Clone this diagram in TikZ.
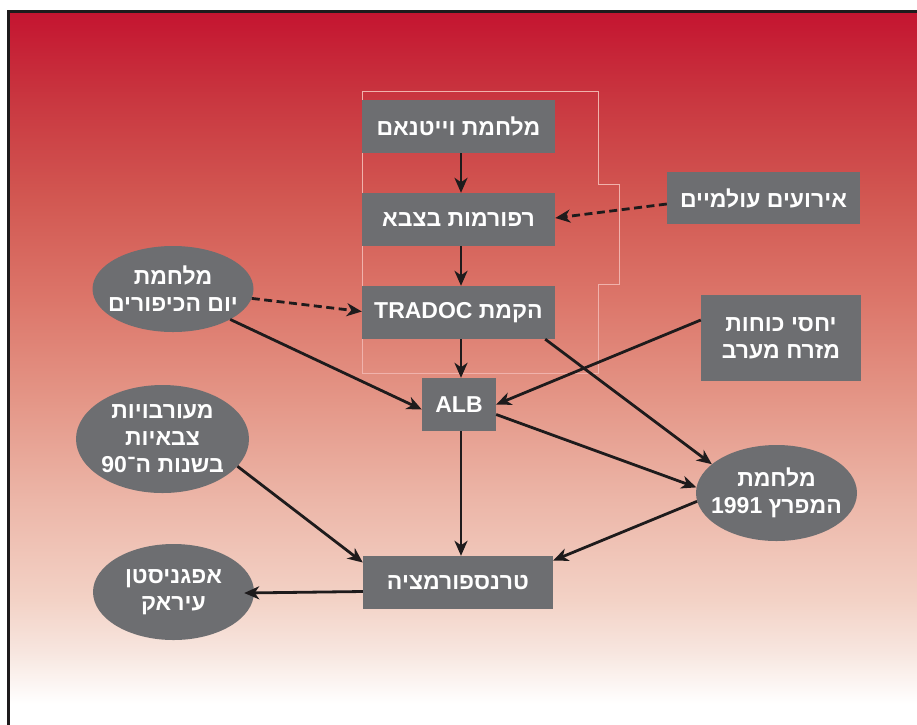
\documentclass[tikz,border=0pt]{standalone}
\usepackage{fontspec}
\setmainfont{Liberation Sans}
\newfontfamily\hebfont[Script=Hebrew]{Liberation Sans}
\TeXXeTstate=1
\usetikzlibrary{arrows.meta,shapes.geometric}
\definecolor{boxgray}{RGB}{109,110,113}
\definecolor{inkc}{RGB}{30,27,28}
\definecolor{outl}{RGB}{240,178,172}
\definecolor{sA}{RGB}{255,255,255}
\definecolor{sB}{RGB}{247,229,222}
\definecolor{sC}{RGB}{243,210,198}
\definecolor{sD}{RGB}{236,182,168}
\definecolor{sE}{RGB}{228,150,135}
\definecolor{sF}{RGB}{220,118,106}
\definecolor{sG}{RGB}{210,88,82}
\definecolor{sH}{RGB}{201,55,64}
\definecolor{sI}{RGB}{196,20,48}
\pgfdeclareverticalshading{bgshade}{912pt}{color(0pt)=(sA); color(20pt)=(sA); color(74pt)=(sB); color(124pt)=(sC); color(224pt)=(sD); color(324pt)=(sE); color(424pt)=(sF); color(524pt)=(sG); color(624pt)=(sH); color(713pt)=(sI)}
\newcommand\heb[1]{\beginR#1\endR}
\tikzset{
  txtfont/.style={font=\hebfont\bfseries\fontsize{23}{27}\selectfont},
  boxn/.style={rectangle, fill=boxgray, text=white, txtfont, inner sep=0pt, align=center},
  elln/.style={ellipse, fill=boxgray, text=white, txtfont, inner sep=-40pt, align=center},
  conn/.style={draw=inkc, line width=2.8pt, -{Stealth[length=15pt,width=13pt,inset=4.5pt]}},
  dconn/.style={conn, dash pattern=on 8pt off 4.5pt},
  outline/.style={draw=outl, line width=0.8pt}
}
\begin{document}
\begin{tikzpicture}[x=1pt,y=-1pt]
\useasboundingbox (0,0) rectangle (917,724);
\clip (0,0) rectangle (917,724);
\fill[white] (0,0) rectangle (917,724);
\node[inner sep=0pt, outer sep=0pt, anchor=south west] (bg) at (8,724) {\pgfuseshading{bgshade}};
\draw[inkc, line width=2.8pt] (8.7,11.2) rectangle (930,740);
% thin outline
\draw[outline] (362,91) -- (598,91) -- (598,184) -- (619,184) -- (619,284) -- (598,284) -- (598,373) -- (362,373) -- cycle;
% boxes
\node[boxn, minimum width=193pt, minimum height=53pt] (viet) at (458.5,126.5) {\heb{מלחמת וייטנאם}};
\node[boxn, minimum width=193pt, minimum height=53pt] (reform) at (458.5,219.5) {\heb{רפורמות בצבא}};
\node[boxn, minimum width=193pt, minimum height=53pt] (tradoc) at (458.5,312.5) {\heb{הקמת \beginL TRADOC\endL}};
\node[boxn, minimum width=74pt, minimum height=53pt] (alb) at (459,404.5) {ALB};
\node[boxn, minimum width=190pt, minimum height=53pt] (trans) at (458,582.5) {\heb{טרנספורמציה}};
\node[boxn, minimum width=193pt, minimum height=52pt] (world) at (763.5,198) {\heb{אירועים עולמיים}};
\node[boxn, minimum width=160pt, minimum height=86pt] (eastwest) at (781,338) {\heb{יחסי כוחות}\\\heb{מזרח מערב}};
% ellipses
\node[elln, minimum width=161pt, minimum height=86pt] (yom) at (173,289) {\heb{מלחמת}\\\heb{יום הכיפורים}};
\node[elln, minimum width=173pt, minimum height=108pt] (mil) at (162.5,439) {\heb{מעורבויות}\\\heb{צבאיות}\\\heb{בשנות ה־\beginL 90\endL}};
\node[elln, minimum width=161pt, minimum height=96pt] (gulf) at (776.5,493) {\heb{מלחמת}\\\heb{המפרץ \beginL 1991\endL}};
\node[elln, minimum width=161pt, minimum height=96pt] (afg) at (173.5,592) {\heb{אפגניסטן}\\\heb{עיראק}};
% connectors
\draw[conn] ([xshift=2.5pt]viet.south) -- ([xshift=2.5pt]reform.north);
\draw[conn] ([xshift=2.5pt]reform.south) -- ([xshift=2.5pt]tradoc.north);
\draw[conn] ([xshift=2.5pt]tradoc.south) -- ([xshift=2pt]alb.north);
\draw[conn] ([xshift=2pt]alb.south) -- ([xshift=3pt]trans.north);
\draw[dconn] ([yshift=-6pt]world.west) -- ([yshift=1.5pt]reform.east);
\draw[dconn] (yom) -- ([yshift=1pt]tradoc.west);
\draw[conn] (yom.-28) -- ([yshift=-5pt]alb.west);
\draw[conn] ([xshift=-10pt]tradoc.south east) -- (gulf.156);
\draw[conn] ([yshift=18pt]eastwest.west) -- (alb.east);
\draw[conn] ([yshift=-10pt]alb.east) -- (gulf.176);
\draw[conn] (mil.-20) -- ([yshift=20pt]trans.west);
\draw[conn] (gulf.186) -- ([yshift=22pt]trans.east);
\draw[conn] ([yshift=-9pt]trans.west) -- ([xshift=-10pt,yshift=-1pt]afg.east);
\end{tikzpicture}
\end{document}
